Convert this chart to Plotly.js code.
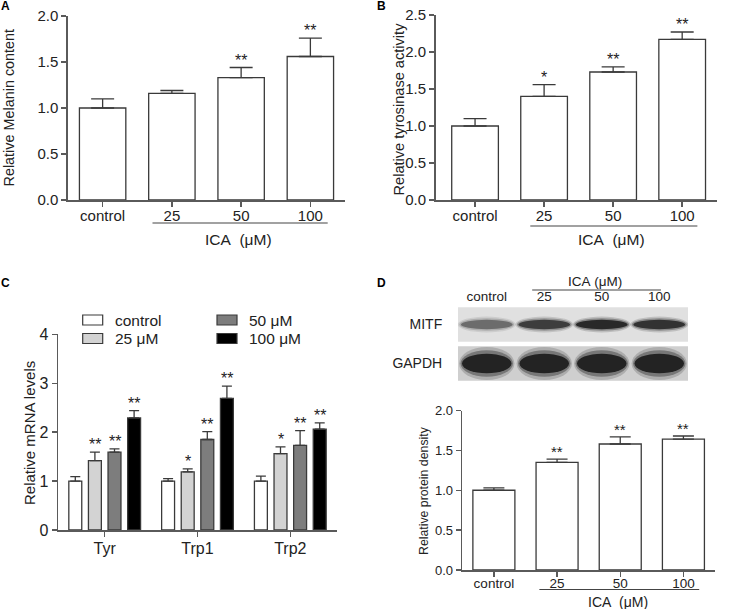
<!DOCTYPE html>
<html>
<head>
<meta charset="utf-8">
<script src="https://cdn.plot.ly/plotly-3.0.1.min.js"></script>
<style>html,body{margin:0;padding:0;background:#fff;}#chart{width:743px;height:609px;}</style>
</head>
<body>
<div id="chart"></div>
<script>
// ---------------- DATA ----------------
// Panel A: relative melanin content
const doseCats = ['control', '25', '50', '100'];
const melanin = [1.00, 1.16, 1.33, 1.56];
const melaninErr = [0.10, 0.03, 0.11, 0.20];
const melaninSig = ['', '', '**', '**'];

// Panel B: relative tyrosinase activity
const tyrosinase = [1.00, 1.40, 1.73, 2.17];
const tyrosinaseErr = [0.10, 0.16, 0.07, 0.10];
const tyrosinaseSig = ['', '*', '**', '**'];

// Panel C: relative mRNA levels
const genes = ['Tyr', 'Trp1', 'Trp2'];
const seriesNames = ['control', '25 μM', '50 μM', '100 μM'];
const mrnaControl = [1.00, 1.00, 1.00];
const mrnaControlErr = [0.09, 0.05, 0.10];
const mrna25 = [1.42, 1.19, 1.56];
const mrna25Err = [0.17, 0.06, 0.14];
const mrna50 = [1.59, 1.85, 1.73];
const mrna50Err = [0.07, 0.16, 0.30];
const mrna100 = [2.29, 2.69, 2.06];
const mrna100Err = [0.15, 0.25, 0.13];
const sigControl = ['', '', ''];
const sig25 = ['**', '*', '*'];
const sig50 = ['**', '**', '**'];
const sig100 = ['**', '**', '**'];

// Panel D: western blot + relative protein density
const laneLabels = ['control', '25', '50', '100'];
const blotRows = ['GAPDH', 'MITF'];
const blotSizes = ['36 kDa', '59 kDa'];
const mitfBand = [0.50, 0.80, 0.95, 0.88];
const gapdhBand = [1.00, 1.00, 1.00, 1.00];
const protein = [1.00, 1.35, 1.58, 1.64];
const proteinErr = [0.03, 0.04, 0.09, 0.04];
const proteinSig = ['', '**', '**', '**'];

// ---------------- STYLE / LAYOUT HELPERS ----------------
const W = 743, H = 609;
const px = x => x / W;
const py = y => 1 - y / H;
const FONT = 'Arial, "Liberation Sans", sans-serif';
const TXT = '#222';
const AXC = '#5a5a5a';
const BARLINE = '#3a3a3a';
const ERRC = '#3a3a3a';
const seriesColors = ['#ffffff', '#d3d3d3', '#7d7d7d', '#000000'];
const zeros = a => a.map(() => 0);

function barTrace(xa, ya, x, y, err, color, width, capW) {
  return {
    type: 'bar', x: x, y: y, xaxis: xa, yaxis: ya,
    width: width, offsetgroup: xa,
    marker: {color: color, line: {color: BARLINE, width: 1.3}},
    error_y: {type: 'data', symmetric: false, array: err, arrayminus: zeros(err),
              color: ERRC, thickness: 1.3, width: capW},
    showlegend: false, hoverinfo: 'skip'
  };
}

function xAxis(dom, anchor, range, size, standoff) {
  return {domain: dom, anchor: anchor, type: 'category', range: range,
    showline: true, linecolor: AXC, linewidth: 1.6, ticks: 'outside', ticklen: 5,
    tickcolor: AXC, tickwidth: 1.4, showgrid: false, zeroline: false,
    ticklabelstandoff: standoff,
    tickfont: {family: FONT, size: size, color: TXT}, fixedrange: true};
}
function yAxis(dom, anchor, range, dtick, fmt, size) {
  return {domain: dom, anchor: anchor, range: range, dtick: dtick, tickformat: fmt,
    showline: true, linecolor: AXC, linewidth: 1.6, ticks: 'outside', ticklen: 5,
    tickcolor: AXC, tickwidth: 1.4, showgrid: false, zeroline: false,
    tickfont: {family: FONT, size: size, color: TXT}, fixedrange: true};
}

const data = [];
const annotations = [];
const shapes = [];

function starAnn(xref, yref, x, y, s, size) {
  if (!s) return;
  annotations.push({xref: xref, yref: yref, x: x, y: y, text: s, showarrow: false,
    yanchor: 'bottom', yshift: -3, font: {family: FONT, size: size, color: TXT}});
}

// Panel A
data.push(barTrace('x', 'y', doseCats, melanin, melaninErr, '#ffffff', 0.67, 11.5));
melanin.forEach((v, i) => starAnn('x', 'y', i, v + melaninErr[i], melaninSig[i], 16));
// Panel B
data.push(barTrace('x2', 'y2', doseCats, tyrosinase, tyrosinaseErr, '#ffffff', 0.676, 11.5));
tyrosinase.forEach((v, i) => starAnn('x2', 'y2', i, v + tyrosinaseErr[i], tyrosinaseSig[i], 16));
// Panel D chart
data.push(barTrace('x4', 'y4', doseCats, protein, proteinErr, '#ffffff', 0.665, 10.5));
protein.forEach((v, i) => starAnn('x4', 'y4', i, v + proteinErr[i], proteinSig[i], 15));

// Panel C grouped bars
const BARGAP = 0.155, BARGROUPGAP = 0.34;
const mrnaVals = [mrnaControl, mrna25, mrna50, mrna100];
const mrnaErrs = [mrnaControlErr, mrna25Err, mrna50Err, mrna100Err];
const mrnaSigs = [sigControl, sig25, sig50, sig100];
mrnaVals.forEach((vals, s) => {
  data.push({
    type: 'bar', x: genes, y: vals, xaxis: 'x3', yaxis: 'y3', name: seriesNames[s],
    offsetgroup: 'c' + s, showlegend: false,
    marker: {color: seriesColors[s], line: {color: BARLINE, width: 1.3}},
    error_y: {type: 'data', symmetric: false, array: mrnaErrs[s], arrayminus: zeros(mrnaErrs[s]),
              color: ERRC, thickness: 1.3, width: 5},
    hoverinfo: 'skip'
  });
  const slot = (1 - BARGAP) / mrnaVals.length;
  vals.forEach((v, g) => starAnn('x3', 'y3', g + (s - (mrnaVals.length - 1) / 2) * slot,
    v + mrnaErrs[s][g], mrnaSigs[s][g], 16));
});

// Legend of panel C (two columns: control / 25 µM, then 50 µM / 100 µM)
const legendColX = [82.7, 217];
const legendRowY = [320, 338.5];
seriesNames.forEach((nm, s) => {
  const cx = legendColX[Math.floor(s / 2)], cy = legendRowY[s % 2];
  shapes.push({type: 'rect', xref: 'paper', yref: 'paper',
    x0: px(cx), x1: px(cx + 20), y0: py(cy + 5), y1: py(cy - 5),
    fillcolor: seriesColors[s], line: {color: BARLINE, width: 1.2}});
  annotations.push({xref: 'paper', yref: 'paper', x: px(cx + 30), y: py(cy), text: nm,
    showarrow: false, xanchor: 'left', yanchor: 'middle',
    font: {family: FONT, size: 15.5, color: TXT}});
});

// Western blot (drawn as shapes on its own axes x5/y5)
const bandRows = [gapdhBand, mitfBand];
const stripColor = ['#cfcfcf', '#e0e0e0'];
const bandHalfH = [0.25, 0.12];
const bandHalfW = [0.43, 0.45];
const bandLayers = [[1.7, 1.12, 0.18], [1.35, 1.06, 0.35], [1.0, 1.0, 0.85]];
bandRows.forEach((row, r) => {
  shapes.push({type: 'rect', xref: 'x5', yref: 'y5', x0: -0.5, x1: 3.5, y0: r - 0.44, y1: r + 0.44,
    fillcolor: stripColor[r], line: {width: 0}, layer: 'below'});
  row.forEach((inten, i) => {
    bandLayers.forEach(([hk, wk, a]) => {
      shapes.push({type: 'circle', xref: 'x5', yref: 'y5',
        x0: i - bandHalfW[r] * wk, x1: i + bandHalfW[r] * wk,
        y0: r - bandHalfH[r] * hk, y1: r + bandHalfH[r] * hk,
        fillcolor: 'rgba(20,20,20,' + (inten * a).toFixed(2) + ')', line: {width: 0}});
    });
  });
});

// underlines for ICA groups
function underline(xref, x0, x1, y) {
  shapes.push({type: 'line', xref: xref, yref: 'paper', x0: x0, x1: x1, y0: py(y), y1: py(y),
    line: {color: '#444', width: 1.2}});
}
underline('x', 0.72, 3.25, 223);
underline('x2', 0.80, 3.22, 226);
underline('x4', 0.72, 3.25, 589.5);
underline('x5', 0.79, 3.03, 290);

function textAnn(x, y, text, size, opts) {
  annotations.push(Object.assign({xref: 'paper', yref: 'paper', x: px(x), y: py(y), text: text,
    showarrow: false, xanchor: 'center', yanchor: 'middle',
    font: {family: FONT, size: size, color: TXT}}, opts || {}));
}
textAnn(238, 239, 'ICA\u00a0\u00a0(μM)', 15.5);
textAnn(611.7, 239, 'ICA\u00a0\u00a0(μM)', 15.5);
textAnn(618.3, 601.5, 'ICA\u00a0\u00a0(μM)', 14);
textAnn(595, 281.5, 'ICA\u00a0(μM)', 13.5);

// y titles
textAnn(8.5, 108, 'Relative Melanin content', 14.4, {textangle: -90});
textAnn(398.5, 109, 'Relative tyrosinase activity', 14.6, {textangle: -90});
textAnn(29, 433, 'Relative mRNA levels', 15, {textangle: -90});
textAnn(424, 491, 'Relative protein density', 12.3, {textangle: -90});

// panel letters
const letterOpts = {font: {family: FONT, size: 12, color: '#000', weight: 'bold'}};
textAnn(5.5, 6, '<b>A</b>', 12, letterOpts);
textAnn(382, 6, '<b>B</b>', 12, letterOpts);
textAnn(5, 283, '<b>C</b>', 12, letterOpts);
textAnn(382, 283, '<b>D</b>', 12, letterOpts);

const layout = {
  width: W, height: H, margin: {l: 0, r: 0, t: 0, b: 0},
  paper_bgcolor: '#fff', plot_bgcolor: 'rgba(0,0,0,0)',
  barmode: 'group', bargap: BARGAP, bargroupgap: BARGROUPGAP,
  font: {family: FONT, color: TXT},
  hovermode: false, showlegend: false,
  xaxis: xAxis([px(68), px(345)], 'y', [-0.5, 3.5], 15, -4),
  yaxis: yAxis([py(200), py(16)], 'x', [0, 2], 0.5, '.1f', 15),
  xaxis2: xAxis([px(435.7), px(716.7)], 'y2', [-0.57, 3.5], 15, -4),
  yaxis2: yAxis([py(200), py(15)], 'x2', [0, 2.5], 0.5, '.1f', 15),
  xaxis3: xAxis([px(58.3), px(336.7)], 'y3', [-0.5, 2.5], 16, -2),
  yaxis3: yAxis([py(530), py(334.3)], 'x3', [0, 4], 1, 'd', 16),
  xaxis4: xAxis([px(462.3), px(715)], 'y4', [-0.5, 3.5], 13.5, -5),
  yaxis4: yAxis([py(570), py(410.5)], 'x4', [0, 2], 0.5, '.1f', 13),
  xaxis5: {domain: [px(458), px(688)], anchor: 'y5', side: 'top', range: [-0.5, 3.5],
    tickmode: 'array', tickvals: [0, 1, 2, 3], ticktext: laneLabels,
    showline: false, showgrid: false, zeroline: false, ticks: 'outside', ticklen: 1,
    ticklabelstandoff: -3,
    tickcolor: 'rgba(0,0,0,0)', tickfont: {family: FONT, size: 13.5, color: TXT}, fixedrange: true},
  yaxis5: {domain: [py(383), py(305)], anchor: 'x5', range: [-0.5, 1.5],
    tickmode: 'array', tickvals: [0, 1], ticktext: blotRows,
    showline: false, showgrid: false, zeroline: false, ticks: 'outside', ticklen: 12,
    tickcolor: 'rgba(0,0,0,0)', tickfont: {family: FONT, size: 14, color: TXT}, fixedrange: true},
  yaxis6: {overlaying: 'y5', anchor: 'x5', side: 'right', range: [-0.5, 1.5],
    tickmode: 'array', tickvals: [0, 1], ticktext: blotSizes,
    showline: false, showgrid: false, zeroline: false, ticks: 'outside', ticklen: 5,
    tickcolor: 'rgba(0,0,0,0)', tickfont: {family: FONT, size: 14, color: TXT}, fixedrange: true},
  shapes: shapes,
  annotations: annotations
};

Plotly.newPlot('chart', data, layout, {staticPlot: true, displayModeBar: false});
</script>
</body>
</html>
